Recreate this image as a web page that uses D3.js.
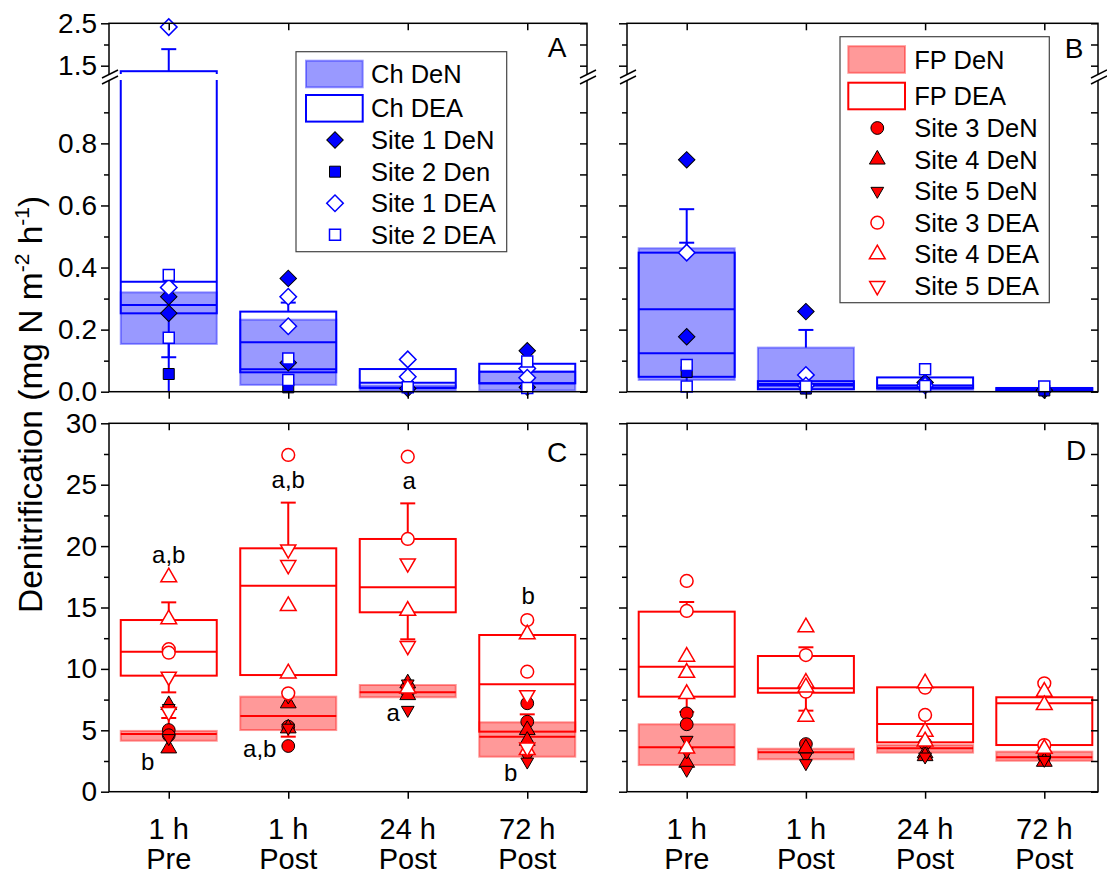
<!DOCTYPE html>
<html>
<head>
<meta charset="utf-8">
<script src="https://cdn.jsdelivr.net/npm/d3@7"></script>
<style>
  body { margin: 0; background: #fff; }
  svg { font-family: Arial, "Liberation Sans", sans-serif; }
</style>
</head>
<body>
<svg id="chart" width="1107" height="876"></svg>
<script>
// ---------------- data ----------------
const categories = ["1 h Pre", "1 h Post", "24 h Post", "72 h Post"];
const tickLine1 = ["1 h", "1 h", "24 h", "72 h"];
const tickLine2 = ["Pre", "Post", "Post", "Post"];

// box statistics per category: [q1, median, q3, lower bar end, upper bar end]
const boxDeN_A = [[0.154, 0.279, 0.32, 0, null], [0.022, 0.072, 0.232, null, null], [0.004, 0.012, 0.02, null, null], [0.004, 0.027, 0.065, null, null]];
const boxDEA_A = [[0.2525, 0.354, 1.37, 0.111, 1.89], [0.0625, 0.159, 0.258, null, 0.287], [0.013, 0.029, 0.073, null, null], [0.027, 0.064, 0.09, null, null]];
const boxDeN_B = [[0.038, 0.266, 0.462, null, 0.588], [0.008, 0.025, 0.142, null, 0.199], [0.006, 0.012, 0.02, null, null], [0.003, 0.006, 0.009, null, null]];
const boxDEA_B = [[0.048, 0.124, 0.448, 0, 0.48], [0.008, 0.02, 0.034, null, null], [0.011, 0.02, 0.046, null, null], [0.004, 0.008, 0.012, null, null]];
const boxDeN_C = [[4.15, 4.7, 4.95, null, 6.0], [5.02, 6.16, 7.74, 4.48, null], [7.69, 8.09, 8.69, null, null], [2.85, 4.48, 5.65, null, 6.3]];
const boxDEA_C = [[9.45, 11.4, 13.98, 8.09, 15.42], [9.5, 16.78, 19.82, null, 23.54], [14.61, 16.64, 20.58, 12.41, 23.48], [4.89, 8.75, 12.76, null, null]];
const boxDeN_D = [[2.17, 3.61, 5.49, null, null], [2.64, 3.21, 3.5, null, null], [3.18, 3.53, 3.8, null, null], [2.52, 2.8, 3.26, null, null]];
const boxDEA_D = [[7.74, 10.18, 14.66, 6.5, 15.45], [8.06, 8.42, 11.05, 6.6, 11.76], [4.02, 5.51, 8.5, null, null], [3.8, 7.2, 7.69, null, null]];

// individual site values per category
const site1DeN_A = [[0.306, 0.2525], [0.365, 0.093], [0.01], [0.132, 0.014]];
const site2DeN_A = [[0.057], [0.014], [], []];
const site1DEA_A = [[0.336, 2.41], [0.306, 0.211], [0.104, 0.048], [0.075, 0.045]];
const site2DEA_A = [[0.376, 0.174], [0.107, 0.038], [0.014], [0.097, 0.012]];

const site1DeN_B = [[0.747, 0.177], [0.258, 0.02], [0.03], [0.005]];
const site2DeN_B = [[0.064], [0.01], [0.02], [0.004]];
const site1DEA_B = [[0.448], [0.054, 0.02], [0.02], []];
const site2DEA_B = [[0.086, 0.017], [0.017], [0.072, 0.018], [0.017]];

const site3DeN_C = [[5.02, 4.6], [5.3, 3.72], [8.42, 8.1], [7.2, 5.7]];
const site4DeN_C = [[7.06, 3.53], [7.2, 5.16], [8.83, 7.87], [5.02, 4.15]];
const site5DeN_C = [[6.8, 4.35], [7.74, 5.2], [8.8, 6.65], [2.85, 2.44]];
const site3DEA_C = [[11.6, 11.32], [27.42, 8.01], [27.28, 20.58], [13.98, 9.77]];
const site4DEA_C = [[17.46, 14.04], [15.12, 9.64], [14.74, 8.4], [12.82, 3.4]];
const site5DEA_C = [[9.37, 6.5], [19.74, 18.46], [18.6, 11.87], [7.87, 3.6]];

const site3DeN_D = [[6.38, 5.49], [3.88], [3.94], [2.85]];
const site4DeN_D = [[2.36], [3.53], [3.13, 2.9], [2.44]];
const site5DeN_D = [[4.21, 3.26, 1.77], [2.85, 2.31], [2.85], [2.58]];
const site3DEA_D = [[17.16, 14.72], [11.13, 8.14], [8.47, 6.25], [8.83, 3.8]];
const site4DEA_D = [[11.0, 9.69, 7.96, 3.53], [13.39, 8.88, 8.5, 6.11], [8.83, 4.89, 4.1], [8.14, 7.06, 3.5]];
const site5DEA_D = [[], [], [], []];

// significance letters in panel C
const sigText = ["a,b", "b", "a,b", "a,b", "a", "a", "b", "b"];
const sigCat = [0, 0, 1, 1, 2, 2, 3, 3];

// ---------------- layout ----------------
const BLUE = "#0000ff", BLUE_FILL = "rgba(0,0,255,0.4)";
const RED = "#ff0000", RED_FILL = "rgba(255,0,0,0.4)";
const svg = d3.select("#chart");

const frameAC = { x0: 109, x1: 587 };
const frameBD = { x0: 627, x1: 1098 };
const topRow = { y0: 23.3, y1: 391.7 };
const botRow = { y0: 423.3, y1: 791.7 };

const xAC = d3.scalePoint().domain(categories).range([frameAC.x0, frameAC.x1]).padding(0.5);
const xBD = d3.scalePoint().domain(categories).range([686.7, 1044.3]);

// broken axis for the top row
const yLow = d3.scaleLinear().domain([0, 1.0]).range([391.7, 81.3]);
const yHigh = d3.scaleLinear().domain([1.37, 2.5]).range([71.2, 23.3]);
const yTop = v => (v <= 1.18 ? yLow(v) : yHigh(v));
const yBot = d3.scaleLinear().domain([0, 30]).range([botRow.y1, botRow.y0]);

const BOX_W = 96, CAP_W = 15;

function markerPath(kind) {
  if (kind === "diamond" || kind === "square")
    return d3.symbol(d3.symbolSquare, kind === "diamond" ? 136 : 121)();
  if (kind === "circle") return d3.symbol(d3.symbolCircle, 128)();
  if (kind === "triUp") return d3.symbol(d3.symbolTriangle, 108)();
  if (kind === "triDown") return d3.symbol(d3.symbolTriangle, 100)();
  if (kind === "triDownSmall") return d3.symbol(d3.symbolTriangle, 70)();
}
function markerRotate(kind) {
  if (kind === "diamond") return 45;
  if (kind === "triDown" || kind === "triDownSmall") return 180;
  return 0;
}
function drawMarker(g, x, y, kind, filled, color) {
  g.append("path")
    .attr("d", markerPath(kind))
    .attr("transform", `translate(${x},${y}) rotate(${markerRotate(kind)})`)
    .attr("fill", filled ? color : "#fff")
    .attr("stroke", filled ? "#000" : color)
    .attr("stroke-width", filled ? 1 : 1.5);
}

function drawPanel(p) {
  const g = svg.append("g");
  const { x, y, color, fill } = p;

  // DeN boxes: translucent fill
  p.den.forEach((b, i) => {
    const cx = x(categories[i]);
    g.append("rect")
      .attr("x", cx - BOX_W / 2).attr("width", BOX_W)
      .attr("y", y(b[2])).attr("height", y(b[0]) - y(b[2]))
      .attr("fill", fill).attr("stroke", fill).attr("stroke-width", 2);
  });
  // DEA boxes: outline
  p.dea.forEach((b, i) => {
    const cx = x(categories[i]);
    g.append("rect")
      .attr("x", cx - BOX_W / 2).attr("width", BOX_W)
      .attr("y", y(b[2])).attr("height", y(b[0]) - y(b[2]))
      .attr("fill", "none").attr("stroke", color).attr("stroke-width", 2);
  });
  // medians and bars
  [p.den, p.dea].forEach(set => set.forEach((b, i) => {
    const cx = x(categories[i]);
    g.append("line")
      .attr("x1", cx - BOX_W / 2).attr("x2", cx + BOX_W / 2)
      .attr("y1", y(b[1])).attr("y2", y(b[1]))
      .attr("stroke", color).attr("stroke-width", 2);
    const bar = (from, to) => {
      g.append("line").attr("x1", cx).attr("x2", cx)
        .attr("y1", y(from)).attr("y2", y(to))
        .attr("stroke", color).attr("stroke-width", 2);
      if (to > 0)
        g.append("line").attr("x1", cx - CAP_W / 2).attr("x2", cx + CAP_W / 2)
          .attr("y1", y(to)).attr("y2", y(to))
          .attr("stroke", color).attr("stroke-width", 2);
    };
    if (b[3] !== null) bar(b[0], b[3]);
    if (b[4] !== null) bar(b[2], b[4]);
  }));
  // site values
  p.series.forEach(s => s.vals.forEach((vs, i) => {
    const cx = x(categories[i]);
    vs.forEach(v => drawMarker(g, cx, y(v), s.kind, s.filled, color));
  }));
}

function styleAxis(sel, fontSize) {
  sel.select(".domain").remove();
  sel.selectAll(".tick line").attr("stroke", "#000").attr("stroke-width", 1.5);
  sel.selectAll(".tick text").attr("fill", "#000").attr("font-size", fontSize)
    .attr("font-family", "Arial, 'Liberation Sans', sans-serif");
}

function drawFrame(fx, fy, x, yScales, labeled) {
  const g = svg.append("g");
  yScales.forEach(ys => {
    g.append("g").attr("transform", `translate(${fx.x0},0)`)
      .call(d3.axisLeft(ys.scale).tickValues(ys.major).tickSize(8).tickPadding(4)
        .tickFormat(labeled ? d3.format(ys.fmt) : ""))
      .call(s => styleAxis(s, 28));
    g.append("g").attr("transform", `translate(${fx.x0},0)`)
      .call(d3.axisLeft(ys.scale).tickValues(ys.minor).tickSize(5).tickFormat(""))
      .call(s => styleAxis(s, 28));
    g.append("g").attr("transform", `translate(${fx.x1},0)`)
      .call(d3.axisRight(ys.scale).tickValues(ys.major.concat(ys.minor)).tickSize(-7).tickFormat(""))
      .call(s => styleAxis(s, 28));
  });
  g.append("g").attr("transform", `translate(0,${fy.y0})`)
    .call(d3.axisTop(x).tickSize(-7).tickFormat(""))
    .call(s => styleAxis(s, 28));
  g.append("g").attr("transform", `translate(0,${fy.y1})`)
    .call(d3.axisBottom(x).tickSize(7).tickFormat(""))
    .call(s => styleAxis(s, 28));
  g.append("rect").attr("x", fx.x0).attr("y", fy.y0)
    .attr("width", fx.x1 - fx.x0).attr("height", fy.y1 - fy.y0)
    .attr("fill", "none").attr("stroke", "#000").attr("stroke-width", 1.5);
}

function drawBreak(fx) {
  const gapTop = 74, gapBot = 80;
  svg.append("rect").attr("x", fx.x0 - 9).attr("y", gapTop)
    .attr("width", fx.x1 - fx.x0 + 18).attr("height", gapBot - gapTop)
    .attr("fill", "#fff");
  [fx.x0, fx.x1].forEach(ax => [gapTop, gapBot].forEach(yc => {
    svg.append("line").attr("x1", ax - 7).attr("y1", yc + 4)
      .attr("x2", ax + 9).attr("y2", yc - 4)
      .attr("stroke", "#000").attr("stroke-width", 1.5);
  }));
}

const topScales = [
  { scale: yLow, major: [0, 0.2, 0.4, 0.6, 0.8], minor: [0.1, 0.3, 0.5, 0.7, 0.9], fmt: ".1f" },
  { scale: yHigh, major: [1.5, 2.5], minor: [2.0], fmt: ".1f" }
];
const botScales = [
  { scale: yBot, major: [0, 5, 10, 15, 20, 25, 30], minor: [2.5, 7.5, 12.5, 17.5, 22.5, 27.5], fmt: "d" }
];

// ---------------- panels ----------------
drawPanel({ x: xAC, y: yTop, color: BLUE, fill: BLUE_FILL, den: boxDeN_A, dea: boxDEA_A,
  series: [
    { vals: site1DeN_A, kind: "diamond", filled: true },
    { vals: site2DeN_A, kind: "square", filled: true },
    { vals: site1DEA_A, kind: "diamond", filled: false },
    { vals: site2DEA_A, kind: "square", filled: false }
  ] });
drawPanel({ x: xBD, y: yTop, color: BLUE, fill: BLUE_FILL, den: boxDeN_B, dea: boxDEA_B,
  series: [
    { vals: site1DeN_B, kind: "diamond", filled: true },
    { vals: site2DeN_B, kind: "square", filled: true },
    { vals: site1DEA_B, kind: "diamond", filled: false },
    { vals: site2DEA_B, kind: "square", filled: false }
  ] });
drawPanel({ x: xAC, y: yBot, color: RED, fill: RED_FILL, den: boxDeN_C, dea: boxDEA_C,
  series: [
    { vals: site3DeN_C, kind: "circle", filled: true },
    { vals: site4DeN_C, kind: "triUp", filled: true },
    { vals: site5DeN_C, kind: "triDownSmall", filled: true },
    { vals: site3DEA_C, kind: "circle", filled: false },
    { vals: site4DEA_C, kind: "triUp", filled: false },
    { vals: site5DEA_C, kind: "triDown", filled: false }
  ] });
drawPanel({ x: xBD, y: yBot, color: RED, fill: RED_FILL, den: boxDeN_D, dea: boxDEA_D,
  series: [
    { vals: site3DeN_D, kind: "circle", filled: true },
    { vals: site4DeN_D, kind: "triUp", filled: true },
    { vals: site5DeN_D, kind: "triDownSmall", filled: true },
    { vals: site3DEA_D, kind: "circle", filled: false },
    { vals: site4DEA_D, kind: "triUp", filled: false },
    { vals: site5DEA_D, kind: "triDown", filled: false }
  ] });

drawFrame(frameAC, topRow, xAC, topScales, true);
drawFrame(frameBD, topRow, xBD, topScales, false);
drawFrame(frameAC, botRow, xAC, botScales, true);
drawFrame(frameBD, botRow, xBD, botScales, false);
drawBreak(frameAC);
drawBreak(frameBD);

// significance letters (C)
const sigPlace = [[0, 18.6], [-21, 1.77], [0, 24.7], [-28.5, 2.85], [1.5, 24.63], [-14.5, 5.76], [1, 15.28], [-16.5, 0.9]];
sigText.forEach((t, i) => {
  svg.append("text").attr("x", xAC(categories[sigCat[i]]) + sigPlace[i][0])
    .attr("y", yBot(sigPlace[i][1])).attr("text-anchor", "middle")
    .attr("font-size", 24).text(t);
});

// panel letters
[["A", 557, 57], ["B", 1074, 58], ["C", 557, 462], ["D", 1076, 460]].forEach(([t, px, py]) => {
  svg.append("text").attr("x", px).attr("y", py).attr("text-anchor", "middle")
    .attr("font-size", 28).text(t);
});

// two-line category labels under the lower panels
[xAC, xBD].forEach(x => categories.forEach((c, i) => {
  const t = svg.append("text").attr("text-anchor", "middle").attr("font-size", 29);
  t.append("tspan").attr("x", x(c)).attr("y", 839).text(tickLine1[i]);
  t.append("tspan").attr("x", x(c)).attr("y", 869).text(tickLine2[i]);
}));

// y axis title
const yt = svg.append("text").attr("transform", "translate(41.7,613) rotate(-90)")
  .attr("font-size", 33.5).attr("text-anchor", "start");
yt.append("tspan").text("Denitrification (mg N m");
yt.append("tspan").attr("dy", -13).attr("font-size", 21).text("-2");
yt.append("tspan").attr("dy", 13).text(" h");
yt.append("tspan").attr("dy", -13).attr("font-size", 21).text("-1");
yt.append("tspan").attr("dy", 13).text(")");

// ---------------- legends ----------------
function legend(box, rows, color, fill) {
  const g = svg.append("g");
  g.append("rect").attr("x", box.x).attr("y", box.y).attr("width", box.w).attr("height", box.h)
    .attr("fill", "#fff").attr("stroke", "#444").attr("stroke-width", 1.2);
  rows.forEach(r => {
    if (r.swatch) {
      g.append("rect").attr("x", box.sx).attr("y", r.cy - 13.3).attr("width", 56.7).attr("height", 26.6)
        .attr("fill", r.swatch === "den" ? fill : "#fff")
        .attr("stroke", r.swatch === "den" ? fill : color).attr("stroke-width", 2);
    } else {
      drawMarker(g, box.mx, r.cy, r.kind, r.filled, color);
    }
    g.append("text").attr("x", box.tx).attr("y", r.cy + 9).attr("font-size", 25.5).text(r.label);
  });
}
legend({ x: 296, y: 51.7, w: 210.7, h: 200, sx: 306, mx: 335, tx: 371 }, [
  { swatch: "den", cy: 74, label: "Ch DeN" },
  { swatch: "dea", cy: 108.3, label: "Ch DEA" },
  { kind: "diamond", filled: true, cy: 140, label: "Site 1 DeN" },
  { kind: "square", filled: true, cy: 171.7, label: "Site 2 Den" },
  { kind: "diamond", filled: false, cy: 203.3, label: "Site 1 DEA" },
  { kind: "square", filled: false, cy: 234.7, label: "Site 2 DEA" }
], BLUE, BLUE_FILL);
legend({ x: 840, y: 36.7, w: 209.3, h: 266, sx: 848.3, mx: 877.3, tx: 914.3 }, [
  { swatch: "den", cy: 59.5, label: "FP DeN" },
  { swatch: "dea", cy: 96, label: "FP DEA" },
  { kind: "circle", filled: true, cy: 128, label: "Site 3 DeN" },
  { kind: "triUp", filled: true, cy: 159.5, label: "Site 4 DeN" },
  { kind: "triDownSmall", filled: true, cy: 191, label: "Site 5 DeN" },
  { kind: "circle", filled: false, cy: 222.7, label: "Site 3 DEA" },
  { kind: "triUp", filled: false, cy: 254.3, label: "Site 4 DEA" },
  { kind: "triDown", filled: false, cy: 286, label: "Site 5 DEA" }
], RED, RED_FILL);
</script>
</body>
</html>
